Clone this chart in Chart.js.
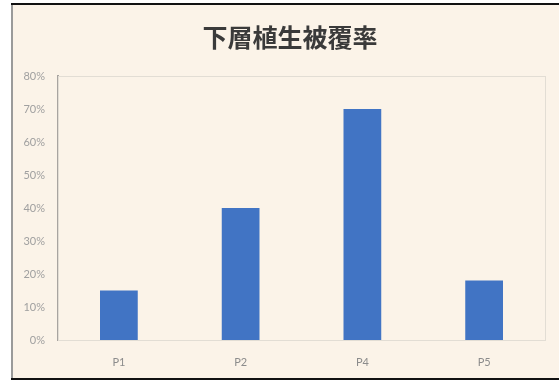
<!DOCTYPE html>
<html>
<head>
<meta charset="utf-8">
<script src="https://cdn.jsdelivr.net/npm/chart.js@4/dist/chart.umd.min.js"></script>
<style>
    html, body { margin: 0; padding: 0; background: #fff; }
    #grafica { display: block; }
</style>
</head>
<body>
<canvas id="grafica" width="559" height="381"></canvas>
<script>
const titulo = '下層植生被覆率'
const parcelas = ['P1', 'P2', 'P4', 'P5']
const cobertura = [15, 40, 70, 18]
const ejeY = { min: 0, max: 80, paso: 10 }

// Fondo crema, marco y título del gráfico
const marco = {
    id: 'marco',
    beforeDraw(chart) {
        const c = chart.ctx
        c.save()
        c.fillStyle = '#fbf3e8'
        c.fillRect(11, 4, chart.width - 11, 376)
        c.fillStyle = '#9a9a9a'
        c.fillRect(11, 4, 2, 376)
        c.fillStyle = '#111'
        c.fillRect(11, 3, chart.width - 11, 2)
        c.fillRect(11, 378, chart.width - 11, 2)
        c.restore()
    },
    beforeDatasetsDraw(chart) {
        const a = chart.chartArea
        const c = chart.ctx
        c.save()
        c.strokeStyle = '#e2ddd4'
        c.lineWidth = 1
        c.strokeRect(a.left + 0.5, a.top + 0.5, a.right - a.left, a.bottom - a.top)
        c.restore()
    },
    afterDraw(chart) {
        const c = chart.ctx
        c.save()
        c.fillStyle = '#3a3a3a'
        c.font = 'bold 25px "Noto Sans CJK JP"'
        c.textAlign = 'center'
        c.textBaseline = 'middle'
        c.fillText(titulo, 290, 37)
        c.restore()
    }
}

new Chart(document.getElementById('grafica'), {
    type: 'bar',
    data: {
        labels: parcelas,
        datasets: [{
            data: cobertura,
            backgroundColor: '#4174c4',
            barPercentage: 0.31,
            categoryPercentage: 1
        }]
    },
    options: {
        responsive: false,
        animation: false,
        layout: { padding: { left: 0, right: 14, top: 76, bottom: 0 } },
        plugins: {
            legend: { display: false },
            tooltip: { enabled: false }
        },
        scales: {
            x: {
                grid: { display: false, drawTicks: false },
                border: { display: true, color: '#e2ddd4' },
                ticks: {
                    color: '#8c8c8c',
                    padding: 16,
                    font: { family: 'Lato', size: 11 }
                },
                afterFit: s => { s.height = 41 }
            },
            y: {
                min: ejeY.min,
                max: ejeY.max,
                grid: { display: false, drawTicks: false },
                border: { display: true, color: '#a8a4a0', width: 2 },
                ticks: {
                    stepSize: ejeY.paso,
                    color: '#a0a0a0',
                    padding: 13,
                    font: { family: 'Lato', size: 11 },
                    callback: v => v + '%'
                },
                afterFit: s => { s.width = 58 }
            }
        }
    },
    plugins: [marco]
})
</script>
</body>
</html>
